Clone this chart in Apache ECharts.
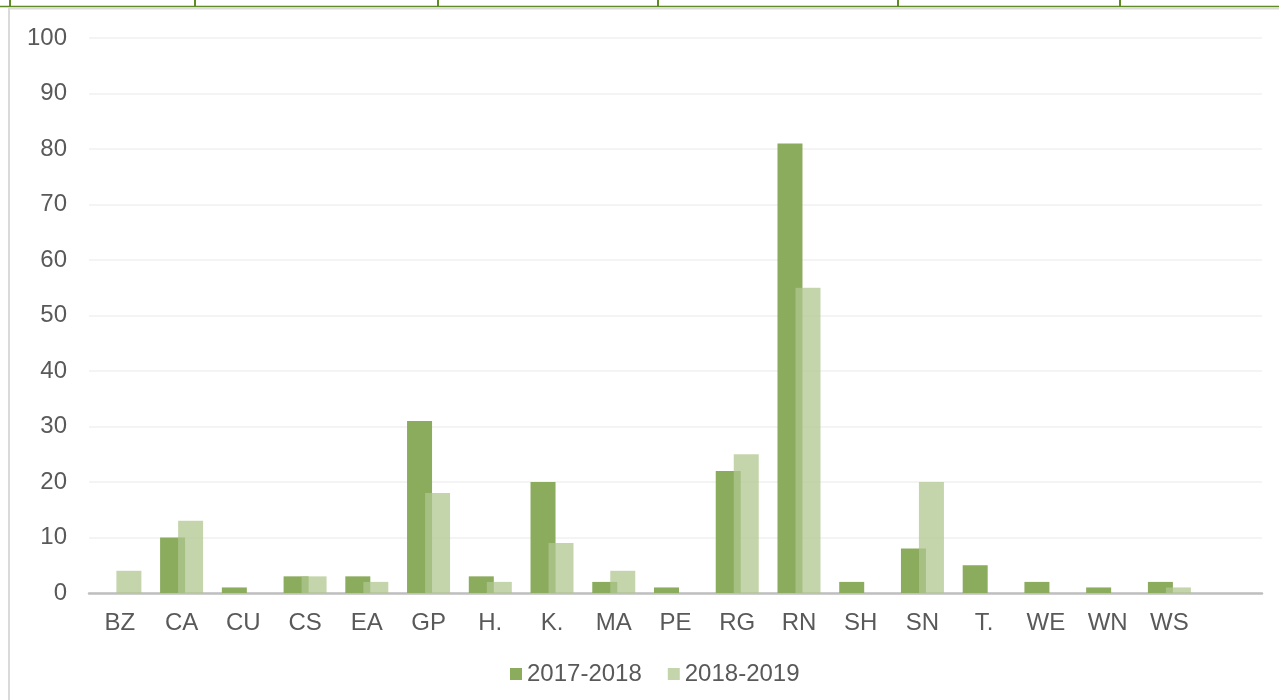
<!DOCTYPE html>
<html>
<head>
<meta charset="utf-8">
<script src="https://cdn.jsdelivr.net/npm/echarts@6/dist/echarts.min.js"></script>
<style>
html, body { margin: 0; padding: 0; background: #fff; }
#box { width: 1279px; height: 700px; }
</style>
</head>
<body>
<div id="box"></div>
<script>
// categories (last slot is empty, as in the original)
var categories = ['BZ', 'CA', 'CU', 'CS', 'EA', 'GP', 'H.', 'K.', 'MA', 'PE', 'RG', 'RN', 'SH', 'SN', 'T.', 'WE', 'WN', 'WS', ''];
var seriesNames = ['2017-2018', '2018-2019'];
var values1718 = [0, 10, 1, 3, 3, 31, 3, 20, 2, 1, 22, 81, 2, 8, 5, 2, 1, 2, null];
var values1819 = [4, 13, 0, 3, 2, 18, 2, 9, 4, 0, 25, 55, 0, 20, 0, 0, 0, 1, null];
var yTicks = [0, 10, 20, 30, 40, 50, 60, 70, 80, 90, 100];

var chart = echarts.init(document.getElementById('box'));

// frame lines at the top/left (decoration from the page the chart was cut from)
var topSegs = [10, 195, 438, 658, 898, 1120];
var graphics = [
    { type: 'line', shape: { x1: 0, y1: 6.5, x2: 1279, y2: 6.5 }, style: { stroke: '#5e8b24', lineWidth: 1.5 } },
    { type: 'line', shape: { x1: 9, y1: 8.5, x2: 1279, y2: 8.5 }, style: { stroke: '#dadada', lineWidth: 2 } },
    { type: 'line', shape: { x1: 9, y1: 8, x2: 9, y2: 700 }, style: { stroke: '#dadada', lineWidth: 2 } }
];
topSegs.forEach(function (x) {
    graphics.push({ type: 'line', shape: { x1: x, y1: 0, x2: x, y2: 7 }, style: { stroke: '#5e8b24', lineWidth: 2 } });
});

var option = {
    animation: false,
    textStyle: { fontFamily: 'Liberation Sans, Arial, sans-serif' },
    graphic: graphics,
    grid: { left: 89, right: 17, top: 38, bottom: 107, containLabel: false },
    legend: {
        data: seriesNames,
        bottom: 9,
        left: 505,
        itemWidth: 12,
        itemHeight: 12,
        itemGap: 26,
        icon: 'rect',
        textStyle: { fontSize: 24, color: '#595959' }
    },
    xAxis: {
        type: 'category',
        data: categories,
        axisLine: { lineStyle: { color: '#bfbfbf', width: 2.5 } },
        axisTick: { show: false },
        axisLabel: { fontSize: 24, color: '#595959', margin: 18 }
    },
    yAxis: {
        type: 'value',
        min: 0,
        max: 100,
        interval: 10,
        axisLine: { show: false },
        axisTick: { show: false },
        axisLabel: {
            fontSize: 24, color: '#595959', margin: 22,
            formatter: function (v) { return yTicks.indexOf(v) >= 0 ? v : ''; }
        },
        splitLine: { lineStyle: { color: '#f0f0f0', width: 1.5 } }
    },
    series: [
        {
            name: seriesNames[0],
            type: 'bar',
            data: values1718,
            barWidth: 25,
            barGap: '-28%',
            itemStyle: { color: '#8bab5d' }
        },
        {
            name: seriesNames[1],
            type: 'bar',
            data: values1819,
            barWidth: 25,
            itemStyle: { color: 'rgba(176,198,143,0.74)' }
        }
    ]
};
chart.setOption(option);
</script>
</body>
</html>
